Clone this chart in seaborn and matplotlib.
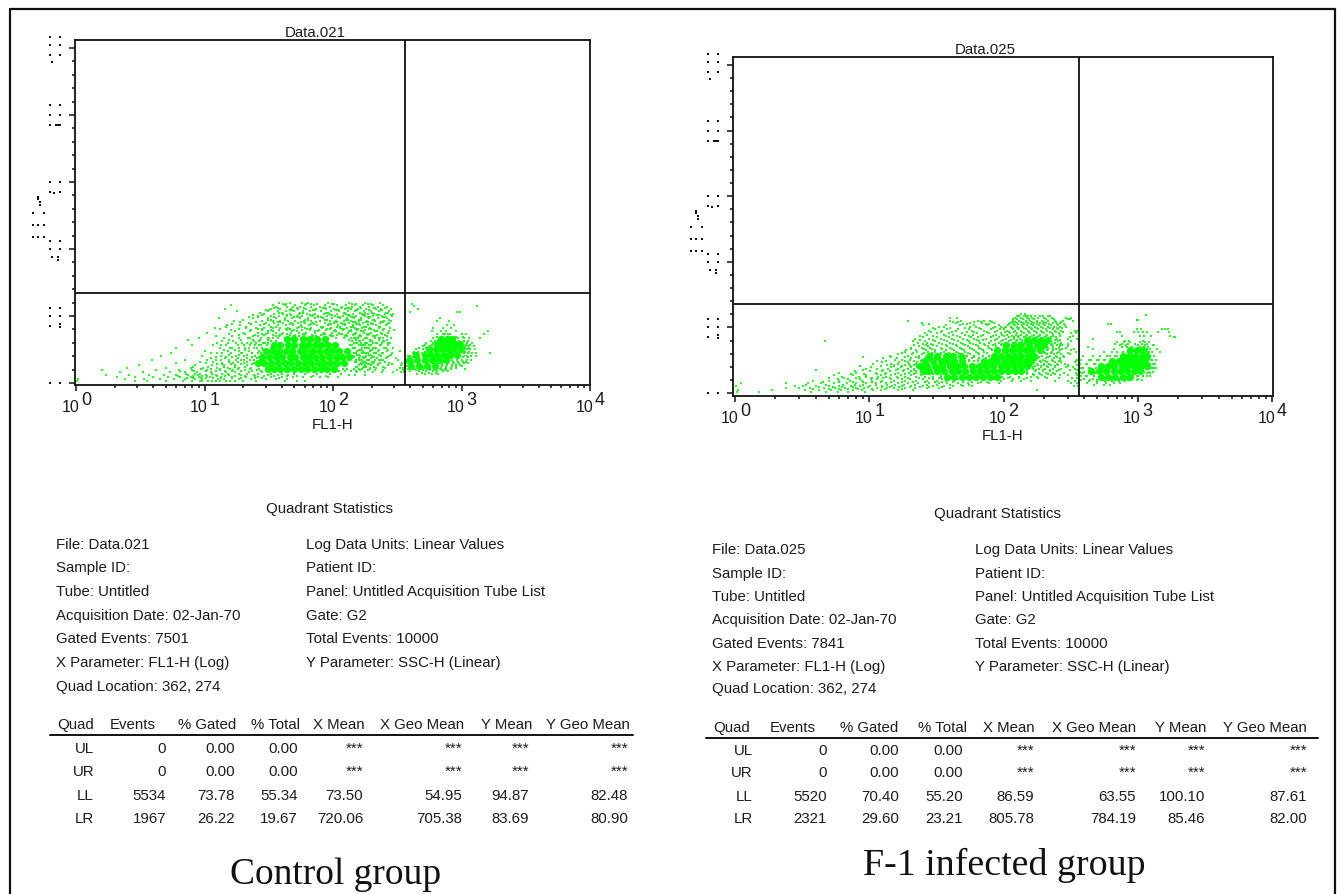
import matplotlib
matplotlib.use('Agg')
import matplotlib.pyplot as plt
import matplotlib.transforms as mtransforms
from matplotlib.lines import Line2D
from matplotlib.ticker import LogLocator, MultipleLocator, NullFormatter
import pandas as pd
import seaborn as sns

# every row below is (SSC-H, [FL1-H values])
ctrl_ll_sparse = [
    (238, [38, 46, 57, 64, 91, 133, 178, 232]),
    (233, [16, 34, 42, 51, 60, 71, 86, 107, 126, 149, 170, 205, 246]),
    (227, [36, 44, 49, 55, 68, 79, 95, 118, 141, 163, 190, 222, 262]),
    (220, [14.5, 33, 39, 47, 53, 62, 74, 88, 102, 123, 137, 156, 181, 215, 238, 281]),
    (214, [18, 31, 37, 43, 50, 58, 66, 81, 97, 112, 131, 148, 174, 199, 228, 271]),
    (207, [29, 35, 41, 46, 54, 63, 72, 85, 93, 108, 127, 144, 168, 187, 210, 254, 295]),
    (200, [26, 33, 38, 44, 52, 57, 69, 77, 90, 104, 119, 135, 152, 176, 203, 241, 288]),
    (193, [13, 24, 31, 36, 42, 48, 55, 64, 73, 83, 98, 113, 129, 146, 165, 192, 224, 263]),
    (186, [17, 28, 34, 39, 45, 51, 59, 67, 79, 94, 106, 122, 139, 158, 183, 213, 249, 283]),
    (179, [22, 30, 35, 41, 47, 53, 61, 70, 86, 101, 116, 133, 151, 172, 196, 233, 272]),
    (172, [15, 19, 27, 32, 37, 43, 49, 56, 65, 75, 91, 109, 124, 142, 162, 186, 218, 258]),
    (165, [12, 21, 25, 29, 34, 39, 45, 52, 60, 68, 82, 97, 114, 128, 147, 169, 194, 229, 276]),
    (157, [16, 23, 28, 33, 38, 44, 50, 57, 66, 78, 88, 103, 119, 137, 155, 177, 208, 244, 299]),
    (150, [10.5, 20, 26, 31, 36, 41, 47, 54, 62, 72, 85, 99, 112, 131, 150, 173, 199, 236, 268]),
    (142, [18.4, 24.6, 29, 34, 39, 46, 51, 59, 69, 81, 94, 108, 126, 143, 161, 188, 221, 256]),
    (135, [9, 14.3, 22.4, 27.5, 32, 37, 42, 48, 56, 64, 76, 90, 105, 121, 138, 157, 181, 212, 247, 284]),
    (127, [7.5, 15.6, 19.3, 23.7, 27.2, 31, 134, 152, 171, 195, 226, 261]),
    (120, [12.4, 17.7, 21.6, 25.3, 29.4, 145, 164, 183, 204, 239, 277]),
    (112, [8, 14.7, 18.2, 22.5, 26.6, 30.4, 141, 158, 176, 198, 231, 268]),
    (105, [6, 13.3, 16.4, 20.6, 24.3, 28.2, 148, 167, 189, 216, 251, 292]),
    (97, [10, 15.2, 18.6, 22.2, 26.4, 136, 155, 172, 193, 224, 262, 330]),
    (90, [5.5, 12.6, 16.2, 19.5, 23.4, 27.6, 151, 169, 186, 209, 240, 286]),
    (82, [4.6, 9.5, 13.4, 17.5, 20.3, 24.7, 143, 161, 180, 202, 235, 272]),
    (75, [11.2, 14.4, 18.3, 21.4, 25.5, 158, 175, 197, 219, 258, 310]),
    (68, [3.9, 7, 12.3, 15.4, 19.2, 22.7, 27.3, 152, 168, 191, 214, 246, 321]),
    (60, [6, 10.3, 13.6, 16.7, 20.4, 24.2, 164, 182, 206, 232, 275, 345]),
    (53, [3.1, 8.5, 11.4, 14.2, 17.3, 21.6, 26.3, 158, 176, 199, 225, 268, 338]),
    (46, [2.5, 5, 7.8, 9.7, 12.5, 15.3, 18.7, 23.2, 171, 193, 217, 253, 330, 352]),
    (39, [1.6, 4.2, 6.3, 8, 10.4, 13.2, 16.6, 20.5, 25.4, 162, 186, 211, 243, 312, 349]),
    (32, [2.2, 3.3, 5.4, 7, 8.8, 11.3, 14.6, 17.2, 22.3, 28, 154, 178, 204, 239, 295, 340, 356]),
    (25, [1.7, 2.6, 3.7, 4.8, 6, 7.4, 8.9, 10.2, 12.2, 15.5, 19.4, 24.3, 31, 37, 45, 132, 149, 176]),
    (18, [2.1, 2.9, 4, 5.2, 6.5, 7.9, 9.1, 11.1, 13.5, 16.3, 21, 26, 33, 40, 49, 58, 68, 79, 92, 110]),
    (11, [1.03, 2.4, 3.4, 4.5, 5.8, 7, 8.4, 9.6, 12.7, 14.2, 18.5, 23, 30, 36, 44]),
    (5, [1.02, 2.9, 3.6, 5, 6.8, 8, 9.3, 11.4, 13.2, 15.7, 20, 25, 42, 52, 60]),
]
ctrl_ll_mid = [
    (236, [41, 43, 62, 68, 75, 98, 101, 140, 152, 188, 196]),
    (224, [35, 37, 52, 59, 83, 86, 115, 129, 133, 166, 210, 214, 255]),
    (217, [30, 32, 46, 48, 70, 73, 105, 110, 150, 155, 192, 235, 240]),
    (210, [27, 38, 40, 55, 58, 88, 92, 121, 124, 162, 178, 201, 260, 266]),
    (203, [24, 28, 44, 47, 66, 70, 96, 99, 130, 134, 171, 175, 220, 226, 285]),
    (196, [22, 26, 35, 50, 53, 76, 80, 110, 114, 140, 146, 188, 193, 245, 252]),
    (189, [20, 31, 33, 42, 61, 64, 87, 90, 126, 130, 160, 166, 205, 210, 274]),
    (182, [19, 25, 37, 39, 56, 59, 74, 103, 107, 143, 148, 182, 186, 238, 243]),
    (175, [16.4, 23, 29, 46, 49, 68, 71, 93, 97, 120, 124, 155, 159, 200, 205, 262]),
    (168, [14.6, 21, 33, 36, 54, 57, 80, 84, 108, 113, 138, 142, 175, 180, 226, 231]),
    (161, [13.3, 18.6, 26, 28, 43, 46, 63, 66, 90, 95, 118, 122, 150, 156, 192, 197, 250]),
    (154, [17.3, 22.4, 31, 34, 48, 52, 73, 77, 102, 106, 132, 137, 165, 170, 214, 220, 275]),
    (147, [15.4, 20.6, 28, 30, 40, 44, 58, 61, 83, 87, 113, 117, 145, 149, 185, 190, 240]),
    (140, [12.2, 16.5, 24, 26, 36, 38, 50, 54, 70, 74, 96, 100, 125, 129, 160, 166, 205, 212, 262]),
    (133, [18.5, 21.7, 31, 34, 42, 45, 60, 64, 146, 150, 178, 183, 228, 234, 281]),
    (126, [13.6, 16.8, 24.4, 26.7, 33, 36, 140, 160, 163, 195, 200, 244, 250]),
    (119, [15.3, 19.6, 22.8, 28.6, 31, 150, 154, 176, 180, 215, 221, 268]),
    (112, [11.6, 13.5, 20.3, 24.7, 27.4, 135, 166, 170, 190, 194, 238]),
    (105, [15.8, 18.6, 22.3, 25.4, 33, 142, 145, 178, 183, 206, 212, 258]),
    (98, [14.3, 17.2, 20.7, 28.3, 31, 160, 164, 196, 200, 226, 270]),
    (91, [11.3, 13.7, 19.2, 23.6, 26.2, 146, 150, 175, 180, 212, 218, 247]),
    (84, [15.6, 18.5, 21.3, 28.4, 155, 158, 190, 195, 228, 234, 285]),
    (77, [12.2, 14.7, 16.3, 23.5, 26.6, 140, 145, 170, 176, 205, 210, 262]),
    (70, [10.5, 13.4, 17.6, 20.2, 24.4, 160, 165, 185, 192, 228, 236]),
    (63, [9.3, 11.6, 15.5, 18.2, 21.3, 148, 152, 172, 178, 200, 207, 255]),
    (56, [12.4, 13.7, 16.2, 19.4, 23.5, 162, 168, 188, 194, 222, 290]),
    (49, [8.2, 10.6, 14.3, 17.4, 20.7, 150, 155, 175, 182, 210, 245]),
    (42, [9.4, 11.2, 13.3, 15.7, 18.3, 22.6, 26.4, 120, 128, 145, 160, 168, 195]),
    (35, [6.5, 8.3, 10.2, 12.3, 14.5, 16.4, 19.3, 23.6, 27.4, 112, 125, 138, 152]),
    (28, [7.2, 8.5, 9.2, 11.5, 13.6, 15.2, 18.4, 21.5, 26.3, 33, 40, 50, 60, 75, 95, 115]),
    (21, [6.2, 8.1, 9.5, 10.5, 12.6, 14.4, 17.3, 20.6, 24.5, 29, 35, 44, 52, 70, 88]),
    (14, [7.3, 8.2, 9.4, 10.3, 11.7, 13.4, 16.5, 19.2, 24.6, 28, 38]),
    (7, [9.6, 10.7, 12.3, 14.6, 17.4]),
]
ctrl_ll_core = [
    (42, [31, 35, 39, 44, 50, 56, 63, 71, 80, 90, 101]),
    (60, [26, 29, 33, 37, 42, 47, 53, 60, 67, 76, 85, 96, 108, 122]),
    (78, [28, 32, 36, 40, 46, 51, 58, 65, 73, 82, 93, 105, 118, 134]),
    (96, [30, 34, 38, 43, 48, 55, 61, 69, 78, 88, 99, 112, 128]),
    (114, [35, 39, 45, 50, 57, 64, 72, 81, 92, 104]),
    (130, [44, 50, 58, 66, 75, 86]),
]
ctrl_lr_sparse = [
    (236, [410]), (230, [1320, 425]), (222, [460]), (213, [930, 980, 400]),
    (195, [680]), (185, [800, 640]), (172, [770, 880]), (165, [600, 720, 830]),
    (155, [1620, 590, 690, 760, 900]), (145, [1500, 650, 740, 810, 1000, 1080]),
    (133, [1400, 600, 680, 860, 940, 1050, 1150]),
    (120, [530, 600, 1100, 1200]), (110, [500, 570, 1060, 1130, 1240]),
    (100, [440, 500, 1100, 1170, 1280]), (90, [1660, 420, 490, 1040, 1120, 1210, 1300]),
    (80, [380, 400, 1040, 1110, 1190, 1290]), (70, [368, 850, 930, 1010, 1100, 1180]),
    (60, [370, 700, 790, 880, 960, 1050, 1130]), (50, [375, 410, 700, 760, 840, 910, 1000]),
    (42, [380, 430, 480, 550, 610, 680, 750, 830, 1060]),
    (36, [400, 470, 530, 600, 650, 720, 790]), (28, [450, 520, 590, 660]),
]
ctrl_lr_mid = [
    (146, [720, 780]), (138, [640, 700, 830, 900, 1020]),
    (125, [580, 620, 660, 950, 1040, 1130]), (112, [520, 590, 650, 1010, 1090, 1170]),
    (104, [470, 530, 590, 1060, 1140]), (92, [430, 460, 520, 570, 1070, 1150]),
    (78, [390, 420, 960, 1030, 1120]), (62, [390, 420, 790, 860, 940, 1020, 1090]),
    (55, [640, 700, 770, 840, 900, 980]), (45, [420, 460, 510, 570, 640, 690, 760, 830, 900]),
    (38, [440, 500, 570, 630, 700, 760]), (30, [490, 560, 630]),
]
ctrl_lr_core = [
    (52, [405, 470, 540, 620]),
    (68, [390, 450, 520, 590, 670, 760]),
    (84, [440, 520, 580, 650, 730, 820, 930]),
    (100, [560, 630, 700, 790, 880, 990]),
    (116, [640, 720, 800, 890, 980]),
    (130, [690, 770, 850]),
]

f1_ll_sparse = [
    (242, [136, 145]),
    (236, [128, 142, 153, 172, 215]),
    (229, [40, 45, 122, 134, 150, 164, 181, 200, 228, 290, 320]),
    (220, [19.5, 40, 48, 64, 71, 79, 118, 131, 146, 158, 176, 193, 216, 240, 276, 330]),
    (213, [24.5, 44, 56, 69, 85, 112, 125, 140, 152, 170, 188, 207, 233, 262]),
    (206, [25, 37, 47, 60, 75, 92, 108, 121, 137, 149, 166, 183, 204, 226, 255, 285]),
    (198, [30, 40, 52, 66, 83, 101, 116, 130, 143, 160, 178, 197, 221, 248, 272]),
    (190, [28, 35, 44, 58, 72, 90, 106, 122, 135, 151, 170, 189, 212, 240, 268, 340, 350]),
    (182, [26, 32, 39, 49, 63, 78, 96, 112, 127, 141, 158, 176, 199, 228, 258, 320, 345]),
    (174, [24, 30, 37, 45, 55, 68, 84, 100, 115, 130, 146, 163, 184, 208, 235, 265, 330]),
    (166, [22, 28, 34, 41, 50, 60, 74, 90, 105, 119, 133, 150, 170, 192, 218, 250, 300, 350]),
    (158, [4.7, 21, 26, 31, 38, 46, 55, 66, 80, 95, 109, 123, 137, 155, 175, 197, 226, 256, 318]),
    (150, [25, 29, 35, 42, 50, 59, 71, 86, 98, 205, 228, 262, 300]),
    (142, [23.4, 27.3, 32, 38, 45, 54, 64, 76, 88, 205, 232, 262, 300]),
    (134, [20.6, 25.4, 29.3, 35, 41, 49, 58, 68, 80, 215, 245, 272, 335]),
    (126, [18.4, 22.6, 27.5, 31, 36, 44, 52, 62, 72, 200, 228, 258, 345]),
    (118, [16.3, 20.7, 24.5, 29.6, 34, 40, 47, 56, 66, 210, 238, 268, 310]),
    (110, [9, 14.4, 18.6, 22.3, 26.4, 31, 37, 43, 52, 60, 185, 215, 250, 280]),
    (102, [15.5, 17.4, 20.2, 24.6, 28.3, 33, 55, 65, 175, 198, 228, 262, 352]),
    (94, [12.4, 16.6, 19.3, 22.5, 26.7, 30.4, 170, 190, 210, 240, 270, 340]),
    (86, [13.6, 15.3, 18.4, 21.5, 24.2, 180, 200, 225, 255, 300, 350]),
    (78, [10.3, 14.5, 17.2, 20.4, 22.7, 165, 190, 215, 240, 290, 330]),
    (70, [4, 9, 12.6, 15.7, 18.2, 21.4, 175, 198, 220, 260, 310, 355]),
    (62, [6, 8, 11.3, 13.4, 16.5, 19.6, 22.3, 150, 185, 208, 235, 280, 345]),
    (54, [5.5, 7.5, 9.5, 12.2, 14.6, 17.3, 20.5, 24.4, 34, 170, 195, 225, 262, 300, 350]),
    (46, [5, 6.5, 8, 10.4, 12.7, 14.2, 16.4, 19.5, 23.3, 28, 33, 108, 130, 150, 180, 212, 258, 325, 355]),
    (38, [3.8, 5, 6, 7.2, 8.8, 10.5, 12.5, 15.3, 18.6, 22.4, 27, 32, 37, 43, 96, 115, 135, 160, 240, 300, 340]),
    (30, [1.1, 2.4, 3.5, 4.4, 5.5, 6.8, 8, 9.5, 11.2, 13.3, 16.4, 19.5, 23, 28, 33, 38, 46, 54, 65, 78, 92, 320, 352]),
    (22, [1.02, 2.8, 3.2, 4, 5, 6, 7.3, 8.6, 10.2, 12.4, 14.7, 17.5, 20.3, 25, 30, 36, 42, 50, 58, 335, 358]),
    (14, [2.4, 3, 3.6, 4.6, 5.6, 6.6, 8, 9.2, 11.5, 13.6, 15.2, 18.3, 22, 27, 33, 40]),
    (8, [1.05, 1.9, 3.3, 4.2, 5.2, 6.2, 7.5, 8.8, 10.6, 12.3, 16.4, 21, 178]),
    (3, [1.03, 1.5, 3.7, 4.8, 5.8, 7, 9.3]),
]
f1_ll_mid = [
    (234, [125, 131, 147, 160, 186, 196, 222]),
    (226, [118, 127, 139, 155, 168, 207, 236, 300, 312]),
    (217, [42, 46, 60, 68, 82, 115, 122, 135, 146, 163, 178, 200, 245, 270]),
    (210, [28, 50, 53, 74, 78, 110, 118, 128, 143, 160, 176, 196, 218, 250, 280]),
    (202, [33, 36, 56, 62, 86, 96, 104, 113, 125, 140, 155, 172, 191, 214, 238, 262, 290]),
    (194, [31, 38, 46, 55, 68, 80, 94, 100, 118, 128, 146, 163, 182, 206, 232, 256]),
    (186, [29, 34, 41, 53, 60, 75, 86, 103, 109, 120, 138, 154, 174, 195, 220, 244, 276]),
    (178, [27, 36, 42, 52, 59, 70, 88, 98, 107, 124, 136, 150, 168, 188, 212, 232, 262]),
    (170, [25, 32, 39, 47, 57, 64, 80, 93, 110, 120, 128, 143, 158, 178, 202, 224, 246, 310]),
    (162, [24, 30, 36, 43, 53, 63, 70, 86, 99, 113, 126, 138, 148, 165, 186, 210, 240, 262]),
    (154, [23, 27, 33, 40, 48, 56, 67, 78, 92, 104, 117, 130, 145, 162, 184, 214, 240, 270]),
    (146, [21.4, 26.3, 30, 37, 44, 52, 62, 73, 84, 96, 210, 224, 248, 274]),
    (138, [20.3, 24.5, 28.4, 34, 40, 47, 56, 66, 78, 90, 215, 232, 258, 290]),
    (130, [18.7, 22.4, 26.5, 31, 37, 43, 51, 60, 70, 82, 210, 235, 264, 320]),
    (122, [17.4, 21.3, 25.6, 29.2, 34, 39, 46, 54, 64, 75, 205, 224, 250, 300]),
    (114, [14.3, 19.4, 23.6, 27.3, 53, 60, 70, 78, 195, 222, 246, 275]),
    (106, [12.7, 16.2, 20.5, 23.4, 26.6, 52, 58, 66, 74, 182, 208, 236, 265]),
    (98, [11.4, 13.3, 18.5, 21.6, 24.3, 55, 60, 65, 170, 186, 205, 235, 258, 344]),
    (90, [10.6, 14.6, 16.4, 19.7, 22.2, 158, 178, 200, 218, 248, 285]),
    (82, [8.5, 12.3, 15.4, 17.6, 20.2, 22.6, 160, 172, 190, 212, 240, 300]),
    (74, [9.4, 11.5, 13.7, 16.3, 19.4, 21.5, 165, 185, 205, 232, 270, 340]),
    (66, [7.8, 10.2, 12.5, 14.3, 17.7, 20.6, 22.4, 150, 172, 196, 222, 250]),
    (58, [7.3, 9.2, 11.4, 13.2, 15.6, 18.3, 21.7, 26.4, 30, 150, 165, 188, 215, 242]),
    (50, [6.3, 8.4, 9.5, 11.6, 13.4, 16.2, 18.6, 22.3, 26.2, 30, 34, 98, 112, 130, 160, 178, 205]),
    (42, [5.8, 7, 8.5, 10.3, 11.5, 14.4, 17.4, 20.2, 25, 30, 35, 40, 46, 52, 60, 72, 85, 100, 118, 142]),
    (34, [4.5, 6, 7.5, 9, 10.5, 12.2, 14.5, 17.6, 21, 26, 31, 35, 42, 50, 58, 68, 75]),
    (26, [3.4, 4.8, 6.4, 7.8, 9, 11.3, 13.5, 15.6, 18.2, 22, 27, 32, 40, 48, 55]),
    (18, [4.2, 5.4, 6.3, 7.5, 9.8, 12.5, 14.2, 16.7, 20, 24, 28, 35]),
    (11, [3.8, 5, 6, 7, 8.3, 10.5, 13.2, 17.4]),
]
f1_ll_core = [
    (50, [38, 43, 49, 55, 62, 70, 79, 89]),
    (66, [25, 28, 32, 36, 41, 46, 52, 59, 67, 75, 85, 96, 108, 122, 135]),
    (82, [24, 27, 31, 35, 40, 45, 51, 58, 66, 74, 84, 95, 107, 120, 135, 150]),
    (98, [26, 30, 34, 38, 43, 49, 71, 80, 90, 102, 115, 130, 146, 160]),
    (114, [28, 32, 37, 42, 48, 85, 96, 108, 122, 136, 152, 170]),
    (130, [90, 102, 115, 130, 146, 164, 186]),
    (146, [105, 120, 136, 154, 176, 200]),
    (162, [150, 170, 190, 215]),
]
f1_lr_sparse = [
    (237, [1150]), (224, [980, 1000]), (210, [600, 630]),
    (195, [1520, 1600, 1680, 980, 1050]), (185, [700, 740, 940, 1000, 1100, 1180, 1420, 1700]),
    (175, [760, 1040, 1120, 1250, 1750]), (170, [1900, 1850]),
    (165, [465]), (155, [700, 790, 880, 1040, 1130, 1220]),
    (145, [740, 820, 1000, 1140, 1290, 1320]), (139, [425]),
    (135, [460, 660, 1180, 1240, 1400]), (125, [560, 640, 1200, 1280, 1460]),
    (112, [390, 460, 620, 700, 1220, 1320]), (100, [380, 430, 510, 570, 1260, 1370]),
    (88, [370, 410, 470, 1240, 1340]), (76, [375, 430, 1180, 1270, 1360]),
    (64, [368, 400, 1110, 1220, 1300]), (52, [372, 420, 470, 990, 1100, 1230]),
    (40, [380, 440, 500, 560, 640, 720, 850, 980, 1080]),
    (32, [420, 500, 580, 660, 740]), (24, [470, 560, 620]),
]
f1_lr_mid = [
    (160, [800, 860, 1100]), (150, [680, 760, 850, 950, 1080, 1180]),
    (140, [760, 830, 900, 1040, 1110, 1200]), (125, [700, 780, 850, 1130, 1220]),
    (112, [520, 590, 680, 750, 1130, 1240]), (100, [450, 500, 560, 630, 1190, 1270]),
    (88, [420, 480, 540, 1230, 1290]), (75, [390, 440, 490, 1150, 1240, 1310]),
    (62, [385, 430, 480, 1060, 1170, 1240]), (52, [380, 410, 470, 920, 1000, 1090, 1170]),
    (44, [400, 460, 520, 590, 660, 740, 830, 900, 1000]), (36, [430, 500, 570, 640, 720, 800]),
]
f1_lr_core = [
    (50, [530, 600, 680, 770, 870]),
    (66, [450, 510, 580, 660, 740, 830, 930, 1030]),
    (82, [530, 600, 670, 760, 850, 950, 1060, 1170]),
    (98, [640, 720, 810, 910, 1020, 1140]),
    (114, [770, 860, 960, 1070, 1180]),
    (130, [880, 980, 1090]),
]

header_cols = ['Quad', 'Events', '% Gated', '% Total', 'X Mean', 'X Geo Mean', 'Y Mean', 'Y Geo Mean']

ctrl_info_left = ['File: Data.021', 'Sample ID:', 'Tube: Untitled', 'Acquisition Date: 02-Jan-70',
                  'Gated Events: 7501', 'X Parameter: FL1-H (Log)', 'Quad Location: 362, 274']
ctrl_info_right = ['Log Data Units: Linear Values', 'Patient ID:', 'Panel: Untitled Acquisition Tube List',
                   'Gate: G2', 'Total Events: 10000', 'Y Parameter: SSC-H (Linear)']
ctrl_table = [
    ['UL', '0', '0.00', '0.00', '***', '***', '***', '***'],
    ['UR', '0', '0.00', '0.00', '***', '***', '***', '***'],
    ['LL', '5534', '73.78', '55.34', '73.50', '54.95', '94.87', '82.48'],
    ['LR', '1967', '26.22', '19.67', '720.06', '705.38', '83.69', '80.90'],
]

f1_info_left = ['File: Data.025', 'Sample ID:', 'Tube: Untitled', 'Acquisition Date: 02-Jan-70',
                'Gated Events: 7841', 'X Parameter: FL1-H (Log)', 'Quad Location: 362, 274']
f1_info_right = ['Log Data Units: Linear Values', 'Patient ID:', 'Panel: Untitled Acquisition Tube List',
                 'Gate: G2', 'Total Events: 10000', 'Y Parameter: SSC-H (Linear)']
f1_table = [
    ['UL', '0', '0.00', '0.00', '***', '***', '***', '***'],
    ['UR', '0', '0.00', '0.00', '***', '***', '***', '***'],
    ['LL', '5520', '70.40', '55.20', '86.59', '63.55', '100.10', '87.61'],
    ['LR', '2321', '29.60', '23.21', '805.78', '784.19', '85.46', '82.00'],
]

# quadrant lines as they sit on the plots
quad_x = 362
quad_y = 270

# the y tick labels and y label survive in the reference only as stray dots
y_tick_values = [1000, 800, 600, 400, 200, 0]
y_tick_dots = [
    [(-24.7, -11.3), (-14.7, -11.3), (-24.7, -3.3), (-14.7, -3.3), (-24.7, 6.7), (-14.7, 6.7), (-22.7, 14)],
    [(-24.7, -10), (-14.7, -10), (-24.7, 0), (-14.7, 0), (-24.7, 10), (-19, 10), (-16.7, 10), (-14.7, 10)],
    [(-24.7, 0), (-14.7, 0), (-24.7, 10), (-20.7, 11), (-14.7, 10)],
    [(-24.7, -8), (-14.7, -8), (-24.7, 0), (-14.7, 0), (-22.7, 8), (-16.7, 8), (-16.7, 11)],
    [(-24.7, -8), (-14.7, -8), (-24.7, 0), (-14.7, 0), (-24.7, 10), (-14.7, 8), (-14.7, 11)],
    [(-24.7, 0), (-14.7, 0)],
]
y_label_dots = [(-36.7, 14.7), (-36.7, 17.3), (-34.7, 20), (-34.7, 23.3),
                (-42.3, 31.3), (-30.7, 31.3),
                (-42.3, 42.7), (-36.7, 42.7), (-30.7, 42.7),
                (-42.3, 54.7), (-36.7, 54.7), (-30.7, 54.7)]

W, H = 1340, 895
TEXT = '#1c1c1c'
GREEN = '#00ff00'
SANS = 'Liberation Sans'
SERIF = 'Liberation Serif'
FS = 10.8

sns.set_style('white')
plt.rcParams['font.family'] = SANS

fig = plt.figure(figsize=(W / 100, H / 100), dpi=100)


def to_frame(rows):
    return pd.DataFrame([(f, s) for s, vals in rows for f in vals], columns=['fl1', 'ssc'])


def t(x, y, s, **kw):
    kw.setdefault('fontsize', FS)
    kw.setdefault('color', TEXT)
    kw.setdefault('va', 'baseline')
    return fig.text(x / W, 1 - y / H, s, **kw)


def line(x0, y0, x1, y1, lw):
    fig.add_artist(Line2D([x0 / W, x1 / W], [1 - y0 / H, 1 - y1 / H], color='#111111', lw=lw))


def draw_panel(box, xlim, ylim, sparse, mid, core, name):
    left, top, right, bottom = box
    ax = fig.add_axes([left / W, 1 - bottom / H, (right - left) / W, (bottom - top) / H])
    for rows in sparse:
        sns.scatterplot(data=to_frame(rows), x='fl1', y='ssc', ax=ax, marker='s', s=2.8,
                        color=GREEN, linewidth=0, legend=False, alpha=0.85)
    for rows in mid:
        sns.scatterplot(data=to_frame(rows), x='fl1', y='ssc', ax=ax, marker='s', s=4,
                        color=GREEN, linewidth=0, legend=False, alpha=0.9)
    for rows in core:
        sns.scatterplot(data=to_frame(rows), x='fl1', y='ssc', ax=ax, marker='o', s=27,
                        color=GREEN, linewidth=0, legend=False)
    ax.set_xscale('log')
    ax.set_xlim(*xlim)
    ax.set_ylim(*ylim)
    ax.axvline(quad_x, color='#111111', lw=1.3)
    ax.axhline(quad_y, color='#111111', lw=1.3)
    for sp in ax.spines.values():
        sp.set_visible(True)
        sp.set_color('#111111')
        sp.set_linewidth(1.3)

    majors = [1, 10, 100, 1000, 10000]
    ax.set_xticks(majors, labels=['10'] * 5)
    ax.xaxis.set_minor_locator(LogLocator(base=10, subs=range(2, 10), numticks=12))
    ax.xaxis.set_minor_formatter(NullFormatter())
    ax.yaxis.set_major_locator(MultipleLocator(200))
    ax.yaxis.set_minor_locator(MultipleLocator(40))
    ax.set_yticklabels([])
    ax.tick_params(axis='both', which='major', length=4, width=1.1, color='#111111', bottom=True, left=True)
    ax.tick_params(axis='both', which='minor', length=2.2, width=1.1, color='#111111', bottom=True, left=True)
    ax.tick_params(axis='x', which='major', pad=6, labelsize=11.5, labelcolor=TEXT)
    ax.set_xlabel('FL1-H', fontsize=FS, color=TEXT, labelpad=2)
    ax.set_ylabel('')
    ax.set_title(name, fontsize=FS, color=TEXT, pad=3, x=0.467)

    shift = mtransforms.ScaledTranslation(3 / 100, 0, fig.dpi_scale_trans)
    for lab, val, exp in zip(ax.get_xticklabels(), majors, range(5)):
        lab.set_ha('right')
        lab.set_transform(lab.get_transform() + shift)
        ax.annotate(str(exp), (val, 0), xycoords=ax.get_xaxis_transform(),
                    xytext=(3.5, -14), textcoords='offset points', fontsize=13,
                    color=TEXT, ha='left', va='baseline')

    # stray dots, placed relative to each y tick
    dots = []
    for val, pattern in zip(y_tick_values, y_tick_dots):
        py = H - ax.transData.transform((1, val))[1]
        dots += [(left + dx, py + dy) for dx, dy in pattern]
    py600 = H - ax.transData.transform((1, 600))[1]
    dots += [(left + dx, py600 + dy) for dx, dy in y_label_dots]
    ov = fig.add_axes([0, 0, 1, 1], facecolor='none')
    ov.set_xlim(0, W)
    ov.set_ylim(H, 0)
    ov.axis('off')
    dot_df = pd.DataFrame(dots, columns=['px', 'py'])
    sns.scatterplot(data=dot_df, x='px', y='py', ax=ov, marker='s', s=2.6, color='#111111',
                    linewidth=0, legend=False)


def draw_stats(center, col_left, col_right, info_ys, left_lines, right_lines,
               head_y, line_y, line_span, row_ys, head_right, val_right, rows, title_y):
    t(center, title_y, 'Quadrant Statistics', ha='center')
    for y, s in zip(info_ys, left_lines):
        t(col_left, y, s)
    for y, s in zip(info_ys, right_lines):
        t(col_right, y, s)
    for x, s in zip(head_right, header_cols):
        t(x, head_y, s, ha='right')
    line(line_span[0], line_y, line_span[1], line_y, 1.4)
    for y, row in zip(row_ys, rows):
        for x, s in zip(val_right, row):
            t(x, y, s, ha='right')


draw_panel((75, 41, 590, 386), (0.982, 10000), (-6, 1024),
           [ctrl_ll_sparse, ctrl_lr_sparse], [ctrl_ll_mid, ctrl_lr_mid],
           [ctrl_ll_core, ctrl_lr_core], 'Data.021')
draw_panel((733, 58, 1273, 397), (0.966, 10160), (-9, 1024),
           [f1_ll_sparse, f1_lr_sparse], [f1_ll_mid, f1_lr_mid],
           [f1_ll_core, f1_lr_core], 'Data.025')

draw_stats(330, 56, 306, [549, 572, 596, 620, 643, 667, 691], ctrl_info_left, ctrl_info_right,
           729, 736, (50, 633), [753, 776, 800, 823],
           [94, 156, 236, 300, 365, 464, 532, 630], [94, 166, 235, 298, 363, 462, 529, 628],
           ctrl_table, 513)
draw_stats(997, 712, 975, [554, 578, 601, 624, 648, 671, 693], f1_info_left, f1_info_right,
           732, 739, (706, 1318), [755, 777, 801, 823],
           [750, 816, 898, 967, 1035, 1136, 1206, 1307], [753, 827, 899, 963, 1034, 1136, 1205, 1307],
           f1_table, 518)

t(336, 884, 'Control group', family=SERIF, fontsize=27, ha='center', color='#111111')
t(1004, 875, 'F-1 infected group', family=SERIF, fontsize=27.3, ha='center', color='#111111')

# page frame, open at the bottom edge
line(10, H, 10, 10, 1.6)
line(10, 10, 1335, 10, 1.6)
line(1335, 10, 1335, H, 1.6)

fig.savefig('out.png', dpi=100, facecolor='white')
